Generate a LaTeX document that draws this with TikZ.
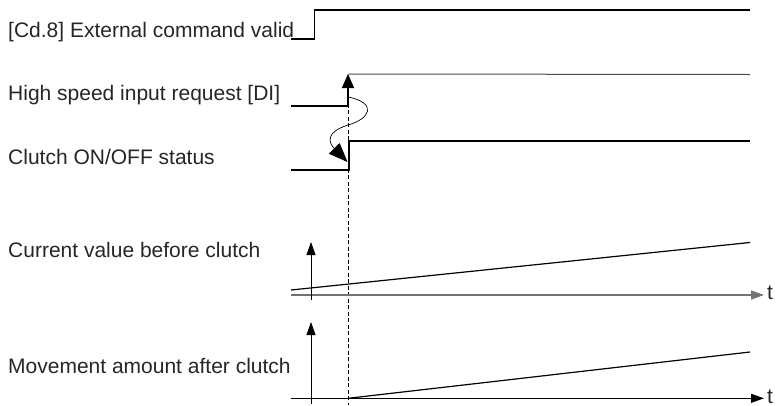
\documentclass[tikz,border=0pt]{standalone}
\usepackage{fontspec}
\setmainfont{Liberation Sans}
\usetikzlibrary{positioning, arrows.meta}
\tikzset{
    label_style/.style={
        anchor=base west,     % 文字以基线左端定位
        inner sep=0pt,
        text=black!85,
        font=\fontsize{21}{24}\selectfont
    },
    signal_style/.style={
        line width=1.7pt,     % 信号波形加粗
        line join=miter
    },
    thin_style/.style={
        line width=1pt,
        draw=black!70
    },
    edge_arrow/.style={
        -{Triangle[length=14pt,width=12pt]},
        line width=1.7pt
    },
    axis_style/.style={
        -{Triangle[length=13pt,width=9pt]},
        line width=0.9pt
    },
    wave_style/.style={
        -{Triangle[length=19pt,width=15pt]},
        line width=0.7pt
    }
}

\begin{document}
\begin{tikzpicture}[x=1pt, y=-1pt]
    \useasboundingbox (0,0) rectangle (777,405);
    % 1. 左侧信号名称
    \node[label_style] (cmd) at (8,37.3) {[Cd.8] External command valid};
    \node[label_style] (hsi) at (8,100)  {High speed input request [DI]};
    \node[label_style] (clu) at (8,164.5) {Clutch ON/OFF status};
    \node[label_style] (cur) at (8,257)  {Current value before clutch};
    \node[label_style] (mov) at (8,373)  {Movement amount after clutch};

    % 2. 波形的关键点
    \coordinate (cmd_lo) at (291,39.3);
    \coordinate (cmd_up) at (314.5,10);
    \coordinate (cmd_end) at (750,10);
    \coordinate (hsi_lo) at (291,106);
    \coordinate (hsi_edge) at (348,106);
    \coordinate (hsi_up) at (348,74);
    \coordinate (hsi_end) at (750,74.5);
    \coordinate (clu_lo) at (291,170);
    \coordinate (clu_up) at (349,141);
    \coordinate (clu_end) at (750,141);

    % 3. 绘制波形
    \draw[signal_style] (cmd_lo) -| (cmd_up) -- (cmd_end);        % 外部指令有效
    \draw[signal_style] (hsi_lo) -- (hsi_edge);                    % 高速输入请求 (低)
    \draw[edge_arrow] (hsi_edge) -- (hsi_up);                      % 上升沿箭头
    \draw[thin_style] (hsi_up) -- (hsi_end);                       % 高速输入请求 (高)
    \draw[signal_style] (clu_lo) -| (clu_up) -- (clu_end);         % 离合器状态

    % 4. 虚线与波浪箭头
    \coordinate (dash_top) at (348,97);
    \coordinate (dash_bot) at (348,405);
    \draw[dashed, line width=0.8pt, dash pattern=on 4pt off 2.5pt] (dash_top) -- (dash_bot);
    \coordinate (wave_end) at (347.5,162);
    \draw[wave_style] (dash_top) .. controls (378,103) and (370,119) .. (348,125)
        .. controls (326,132) and (328,142) .. (wave_end);

    % 5. 当前值坐标轴
    \node[label_style] (t_cur) at (767,299.5) {t};
    \coordinate (cur_o) at (291,295);
    \coordinate (cur_t) at (764,295);
    \coordinate (cur_y0) at (311,300);
    \coordinate (cur_y1) at (311,242);
    \draw[axis_style, draw=black!55, line width=1.3pt] (cur_o) -- (cur_t);
    \draw[axis_style] (cur_y0) -- (cur_y1);
    \coordinate (cur_a) at (291,290);
    \coordinate (cur_b) at (750,242.5);
    \draw[line width=1.2pt] (cur_a) -- (cur_b);

    % 6. 移动量坐标轴
    \node[label_style] (t_mov) at (767,403) {t};
    \coordinate (mov_o) at (291,398.3);
    \coordinate (mov_t) at (764,398.3);
    \coordinate (mov_y0) at (311,404);
    \coordinate (mov_y1) at (311,322);
    \draw[axis_style] (mov_o) -- (mov_t);
    \draw[axis_style] (mov_y0) -- (mov_y1);
    \coordinate (mov_b) at (750,352);
    \draw[line width=1.2pt] (hsi_edge |- mov_o) -- (mov_b);
\end{tikzpicture}
\end{document}
